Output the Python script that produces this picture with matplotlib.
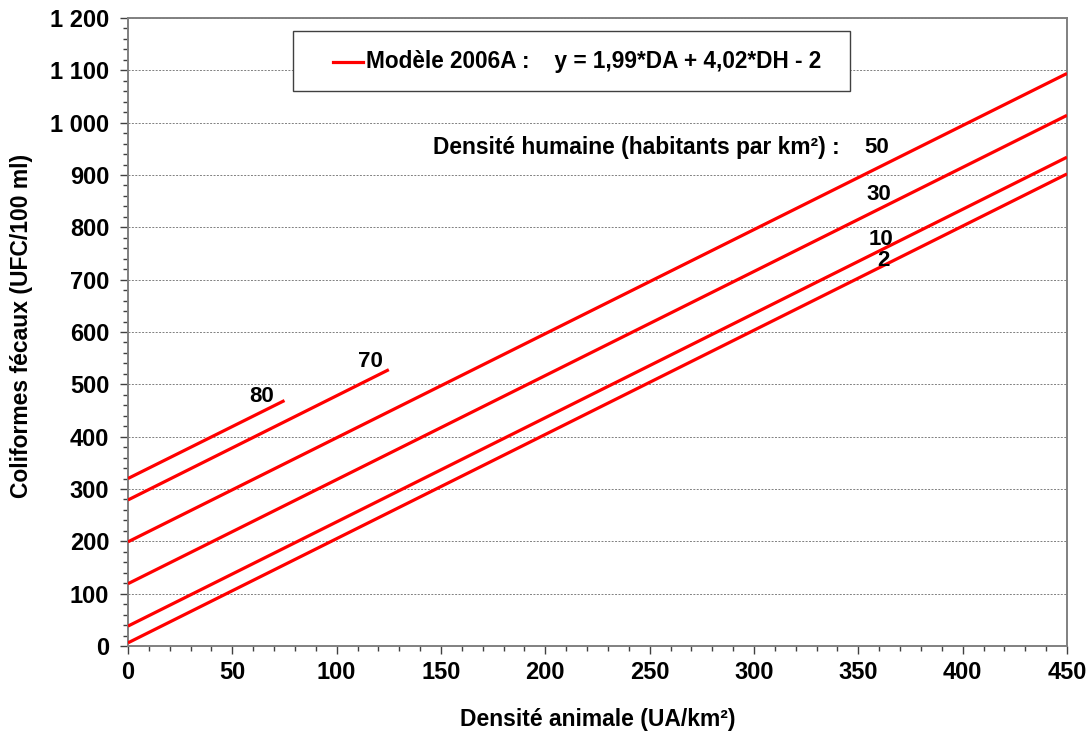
import matplotlib
matplotlib.use("Agg")
import matplotlib.pyplot as plt
from matplotlib.patches import Rectangle
from matplotlib.lines import Line2D
from matplotlib.ticker import MultipleLocator, FuncFormatter

plt.rcParams["font.family"] = ["Liberation Sans", "DejaVu Sans"]
plt.rcParams["font.weight"] = "bold"

# Modèle 2006A : y = 1,99*DA + 4,02*DH - 2, une droite par densité humaine
dh = [2, 10, 30, 50, 70, 80]
da_start = [0, 0, 0, 0, 0, 0]
da_end = [450, 450, 450, 450, 125, 75]
fc_start = [6, 38, 119, 199, 279, 320]
fc_end = [902, 934, 1014, 1094, 528, 469]

# étiquettes des droites (texte, x, y)
lab_txt = ["50", "30", "10", "2", "70", "80"]
lab_x = [359, 360, 361, 362, 116, 64]
lab_y = [953, 862, 776, 736, 543, 476]

red = "#ff0000"
grey = "#808080"
fs = 16

fig = plt.figure(figsize=(10.92, 7.31), dpi=100)
ax = fig.add_axes([0.1172, 0.1163, 0.8599, 0.8591])

for i in range(len(dh)):
    ax.plot([da_start[i], da_end[i]], [fc_start[i], fc_end[i]], color=red, lw=2.3,
            solid_capstyle="butt", zorder=3)

for t, x, y in zip(lab_txt, lab_x, lab_y):
    ax.text(x, y, t, fontsize=fs, fontweight="bold", ha="center", va="center", zorder=4)
ax.text(146, 953, "Densité humaine (habitants par km²) :", fontsize=16.4,
        fontweight="bold", ha="left", va="center")

ax.set_xlim(0, 450)
ax.set_ylim(0, 1200)
ax.xaxis.set_major_locator(MultipleLocator(50))
ax.xaxis.set_minor_locator(MultipleLocator(10))
ax.yaxis.set_major_locator(MultipleLocator(100))
ax.yaxis.set_minor_locator(MultipleLocator(20))
ax.yaxis.set_major_formatter(FuncFormatter(lambda v, p: f"{int(v):,}".replace(",", " ")))
ax.grid(True, axis="y", which="major", ls=(0, (2, 1.5)), lw=0.7, color=grey)
ax.tick_params(which="both", direction="out", color="#404040", labelsize=17, width=1)
ax.tick_params(which="major", length=5.5)
ax.tick_params(which="minor", length=3.5)
ax.tick_params(axis="x", pad=5)
ax.tick_params(axis="y", pad=8)
for s in ax.spines.values():
    s.set_color(grey)
    s.set_linewidth(1.4)
for lbl in ax.get_xticklabels() + ax.get_yticklabels():
    lbl.set_fontweight("bold")

ax.set_xlabel("Densité animale (UA/km²)", fontsize=16.5, fontweight="bold")
ax.set_ylabel("Coliformes fécaux (UFC/100 ml)", fontsize=16.5, fontweight="bold")
ax.xaxis.set_label_coords(0.5, -0.098)
ax.yaxis.set_label_coords(-0.101, 0.51)

# cadre de légende
ax.add_patch(Rectangle((0.176, 0.884), 0.593, 0.095, transform=ax.transAxes,
                       facecolor="white", edgecolor="#404040", lw=1.0, zorder=5))
ax.add_line(Line2D([0.218, 0.250], [0.930, 0.930], transform=ax.transAxes,
                   color=red, lw=2.3, zorder=6))
ax.text(0.2535, 0.930, "Modèle 2006A :    y = 1,99*DA + 4,02*DH - 2", transform=ax.transAxes,
        fontsize=16.3, fontweight="bold", ha="left", va="center", zorder=6)

fig.savefig("out.png", dpi=100)
